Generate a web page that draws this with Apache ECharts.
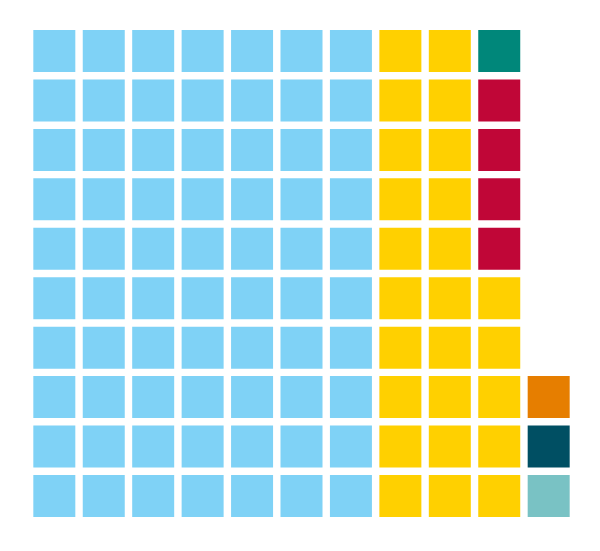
<!DOCTYPE html>
<html>
<head>
<meta charset="utf-8">
<script src="https://cdn.jsdelivr.net/npm/echarts@6/dist/echarts.min.js"></script>
<style>html,body{margin:0;padding:0;background:#fff;}#c{width:600px;height:551px;}</style>
</head>
<body>
<div id="c"></div>
<script>
// Waffle chart: counts per group, filled column by column, bottom to top
const groups = ['Group A', 'Group B', 'Group C', 'Group D', 'Group E', 'Group F', 'Group G'];
const counts = [70, 25, 4, 1, 1, 1, 1];
const colors = ['#7fd2f6', '#ffd000', '#c00637', '#00877a', '#79c2c4', '#004f63', '#e67e00'];
const ROWS = 10;
const COLS = 11;

const chart = echarts.init(document.getElementById('c'));
let idx = 0;
const series = groups.map((g, i) => {
  const data = [];
  for (let k = 0; k < counts[i]; k++) {
    const col = Math.floor(idx / ROWS);
    const row = idx % ROWS;
    data.push([col, row]);
    idx++;
  }
  return {
    name: g,
    type: 'scatter',
    symbol: 'rect',
    symbolSize: 42,
    itemStyle: { color: colors[i], opacity: 1 },
    emphasis: { disabled: true },
    data: data
  };
});

chart.setOption({
  animation: false,
  grid: { left: 29.6, top: 26.3, width: 543.8, height: 494.4 },
  xAxis: { type: 'value', min: -0.5, max: COLS - 0.5, show: false },
  yAxis: { type: 'value', min: -0.5, max: ROWS - 0.5, show: false },
  series: series
});
</script>
</body>
</html>
